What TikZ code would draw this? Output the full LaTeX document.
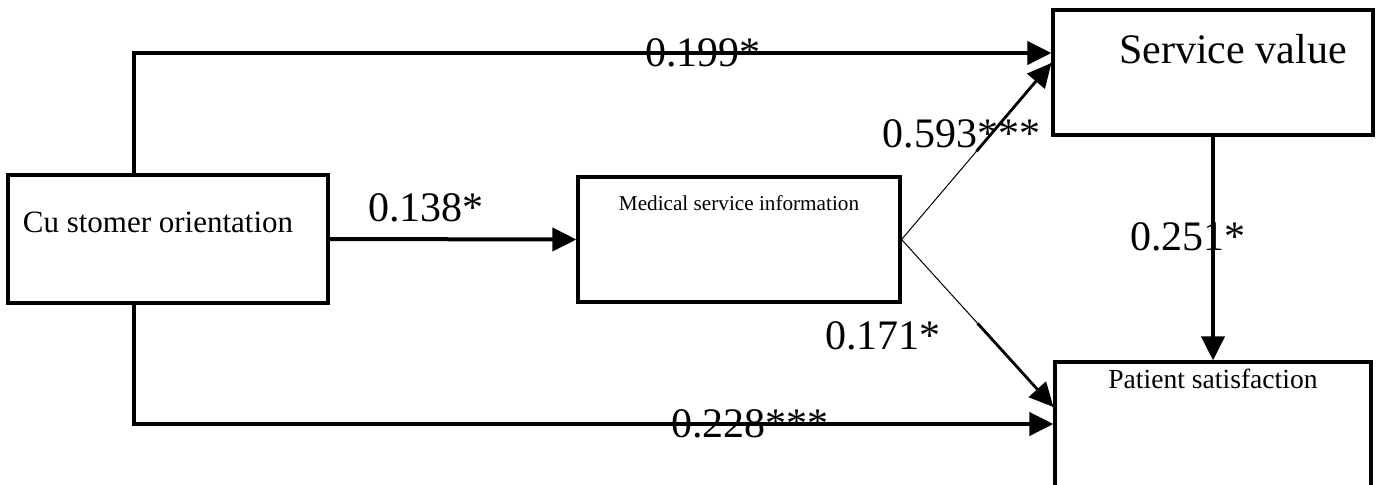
\documentclass[tikz,border=0pt]{standalone}
\usepackage{fontspec}
\setmainfont{Liberation Serif}
\usetikzlibrary{positioning}
\usetikzlibrary{arrows.meta}
\usetikzlibrary{calc}

\begin{document}
\begin{tikzpicture}[x=0.5pt, y=-0.5pt,
        box/.style = {draw, line width=1.6pt, inner sep=0pt},
        arr/.style = {line width=2pt, -{Triangle[length=12pt, width=11.5pt]}},
        slim/.style = {line width=0.5pt},
        coef/.style = {inner sep=0pt, font=\fontsize{21}{25}\selectfont}]
        \useasboundingbox (0,0) rectangle (1377,484);

        %Boxen
        \node[box, minimum width=160pt, minimum height=64pt] (co) at (168,239) {};
        \node[box, minimum width=161pt, minimum height=62.5pt] (msi) at (739,239.5) {};
        \node[box, minimum width=160pt, minimum height=62.5pt] (sv) at (1213,72.5) {};
        \node[box, minimum width=158pt, minimum height=64pt] (ps) at (1213,426) {};

        \node[anchor=base, font=\fontsize{15.5}{18}\selectfont] (cot) at ([xshift=-5pt, yshift=-29.5pt]co.north) {Cu stomer orientation};
        \node[anchor=base, font=\fontsize{10.6}{13}\selectfont] (msit) at ([yshift=-17.5pt]msi.north) {Medical service information};
        \node[anchor=base, font=\fontsize{21}{25}\selectfont] (svt) at ([xshift=10pt, yshift=-27.5pt]sv.north) {Service value};
        \node[anchor=base, font=\fontsize{13.8}{16}\selectfont] (pst) at ([yshift=-14pt]ps.north) {Patient satisfaction};

        \coordinate (svin) at ([yshift=4.75pt]sv.west);
        \coordinate (psin) at ([yshift=9.5pt]ps.west);

        %Pfeile
        \draw[arr] ([xshift=64pt]co.north west) |- ([yshift=9.75pt]sv.west) node[coef, pos=0.81] (c199) {0.199*};
        \draw[arr] (co.east) -- (msi.west) node[coef, pos=0.39, above=7.5pt] (c138) {0.138*};
        \draw[arr] ([xshift=64pt]co.south west) |- ([yshift=1pt]ps.west) node[coef, pos=0.835] (c228) {0.228***};

        \draw[slim] (msi.east) -- (svin) node[coef, pos=0.6, xshift=-15pt] (c593) {0.593***};
        \draw[arr, line width=1.4pt] ($(msi.east)!0.5!(svin)$) -- (svin);
        \draw[slim] (msi.east) -- (psin) node[coef, pos=0.575, xshift=-53pt] (c171) {0.171*};
        \draw[arr, line width=1.4pt] ($(msi.east)!0.5!(psin)$) -- (psin);

        \draw[arr] (sv.south) -- (ps.north) node[coef, pos=0.45, xshift=-12.5pt] (c251) {0.251*};

    \end{tikzpicture}
\end{document}
